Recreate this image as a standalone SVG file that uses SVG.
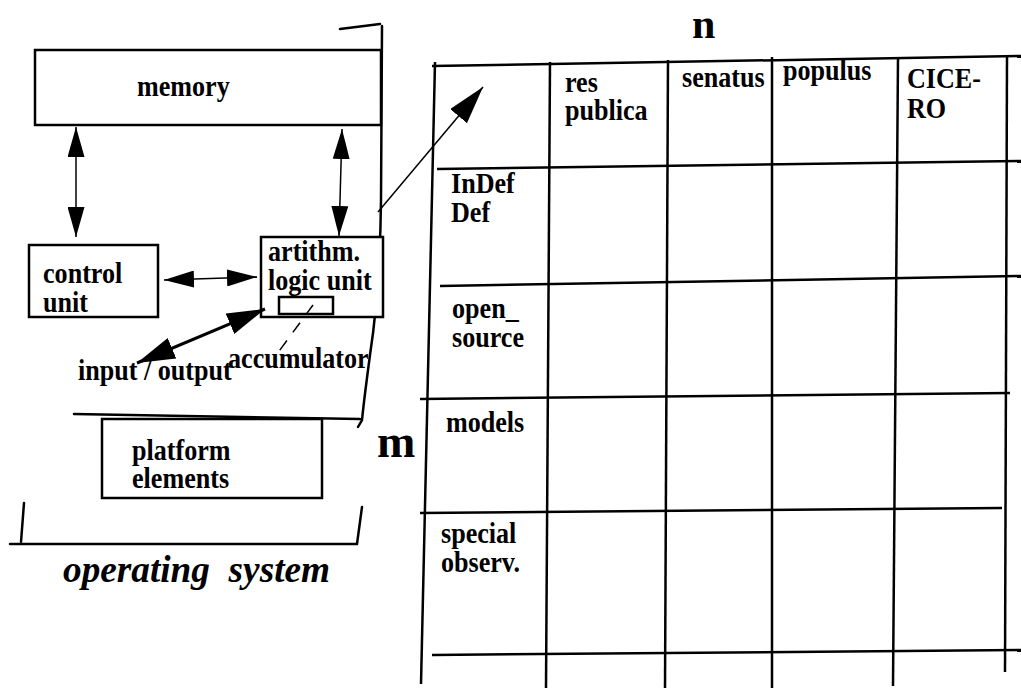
<svg xmlns="http://www.w3.org/2000/svg" width="1021" height="688" viewBox="0 0 1021 688">
  <style>
    .lbl { font-family: "Liberation Serif", "Times New Roman", serif; font-weight: bold; font-size: 30px; fill: #000; }
    .big { font-family: "Liberation Serif", "Times New Roman", serif; font-weight: bold; fill: #000; }
    .os { font-family: "Liberation Serif", "Times New Roman", serif; font-weight: bold; font-style: italic; font-size: 38px; fill: #000; white-space: pre; }
    .box { fill: #fff; stroke: #000; stroke-width: 2.5; }
    .pen { fill: none; stroke: #000; stroke-width: 2.5; stroke-linecap: round; }
    .grid { fill: none; stroke: #000; stroke-width: 2.5; }
    .link { fill: none; stroke: #000; stroke-width: 1.5; }
    .link-thick { fill: none; stroke: #000; stroke-width: 3; }
  </style>
  <defs>
    <marker id="arr" markerUnits="userSpaceOnUse" markerWidth="30" markerHeight="17" refX="30" refY="8.5" orient="auto-start-reverse">
      <path d="M0,0 L30,8.5 L0,17 Z" fill="#000"/>
    </marker>
    <marker id="arrBig" markerUnits="userSpaceOnUse" markerWidth="38" markerHeight="22" refX="38" refY="11" orient="auto-start-reverse">
      <path d="M0,0 L38,11 L0,22 Z" fill="#000"/>
    </marker>
  </defs>

  <rect width="1021" height="688" fill="#fff"/>

  <!-- operating system bracket strokes -->
  <g id="os-frame">
    <path class="pen" d="M340,29 L380,24"/>
    <path class="pen" d="M382,26 L381,200 Q380,290 370,355 Q364,400 362,420 L358,427"/>
    <path class="pen" d="M74,414 L360,419"/>
    <path class="pen" d="M24,503 L21,542"/>
    <path class="pen" d="M10,544 L357,544 L362,507"/>
    <text class="os" x="63" y="582" textLength="267" lengthAdjust="spacingAndGlyphs">operating  system</text>
  </g>

  <!-- nodes -->
  <g id="memory">
    <rect class="box" x="35" y="50" width="346" height="75"/>
    <text class="lbl" transform="translate(137 96) scale(0.87 1)">memory</text>
  </g>

  <g id="control-unit">
    <rect class="box" x="29" y="245" width="129" height="72"/>
    <text class="lbl" transform="translate(43 283) scale(0.87 1)">control</text>
    <text class="lbl" transform="translate(43 312) scale(0.87 1)">unit</text>
  </g>

  <g id="alu">
    <rect class="box" x="261" y="237" width="122" height="80" stroke-width="2"/>
    <text class="lbl" transform="translate(268 261) scale(0.87 1)">artithm.</text>
    <text class="lbl" transform="translate(268 290) scale(0.87 1)">logic unit</text>
  </g>

  <g id="accumulator">
    <rect class="box" x="279" y="297" width="54" height="17" stroke-width="2"/>
    <text class="lbl" transform="translate(228 368) scale(0.87 1)">accumulator</text>
  </g>

  <g id="input-output">
    <text class="lbl" transform="translate(78 380) scale(0.87 1)">input / output</text>
  </g>

  <g id="platform">
    <rect class="box" x="102" y="419" width="220" height="79" stroke-width="3"/>
    <text class="lbl" transform="translate(132 460) scale(0.87 1)">platform</text>
    <text class="lbl" transform="translate(132 488) scale(0.87 1)">elements</text>
  </g>

  <g id="dimension-labels">
    <text class="big" x="377" y="457" font-size="46">m</text>
    <text class="big" x="692" y="38" font-size="42">n</text>
  </g>

  <!-- matrix grid -->
  <g id="matrix">
    <g class="grid">
      <path d="M432,66 L1021,56"/>
      <path d="M437,169 L1021,161"/>
      <path d="M440,286 L1021,276"/>
      <path d="M420,399 L1010,393"/>
      <path d="M420,513 L1002,508"/>
      <path d="M432,655 L1021,650"/>
      <path d="M435,62 L421,684"/>
      <path d="M550,62 L546,688"/>
      <path d="M668,60 L665,688"/>
      <path d="M772,57 L772,688"/>
      <path d="M898,58 L893,686"/>
      <path d="M1007,56 L1005,672"/>
    </g>
    <text class="lbl" transform="translate(565 92) scale(0.87 1)">res</text>
    <text class="lbl" transform="translate(565 120) scale(0.87 1)">publica</text>
    <text class="lbl" transform="translate(682 87) scale(0.87 1)">senatus</text>
    <text class="lbl" transform="translate(783 80) scale(0.87 1)">populus</text>
    <text class="lbl" transform="translate(907 88) scale(0.87 1)">CICE-</text>
    <text class="lbl" transform="translate(907 118) scale(0.87 1)">RO</text>
    <text class="lbl" transform="translate(451 193) scale(0.87 1)">InDef</text>
    <text class="lbl" transform="translate(451 222) scale(0.87 1)">Def</text>
    <text class="lbl" transform="translate(452 318) scale(0.87 1)">open_</text>
    <text class="lbl" transform="translate(452 347) scale(0.87 1)">source</text>
    <text class="lbl" transform="translate(446 432) scale(0.87 1)">models</text>
    <text class="lbl" transform="translate(441 543) scale(0.87 1)">special</text>
    <text class="lbl" transform="translate(441 572) scale(0.87 1)">observ.</text>
  </g>

  <!-- connectors -->
  <g id="connectors">
    <path class="link" d="M76,127 L76,237" marker-start="url(#arr)" marker-end="url(#arr)"/>
    <path class="link" d="M342,129 L339,236" marker-start="url(#arr)" marker-end="url(#arr)"/>
    <path class="link" d="M164,280 L257,277" marker-start="url(#arr)" marker-end="url(#arr)"/>
    <path class="link-thick" d="M137,363 L265,309" marker-start="url(#arrBig)" marker-end="url(#arrBig)"/>
    <path class="link" d="M313,305 L274,358" stroke-width="2" stroke-dasharray="12 10"/>
    <path class="link" d="M378,212 L483,87" stroke-width="2.5" marker-end="url(#arrBig)"/>
  </g>
</svg>
